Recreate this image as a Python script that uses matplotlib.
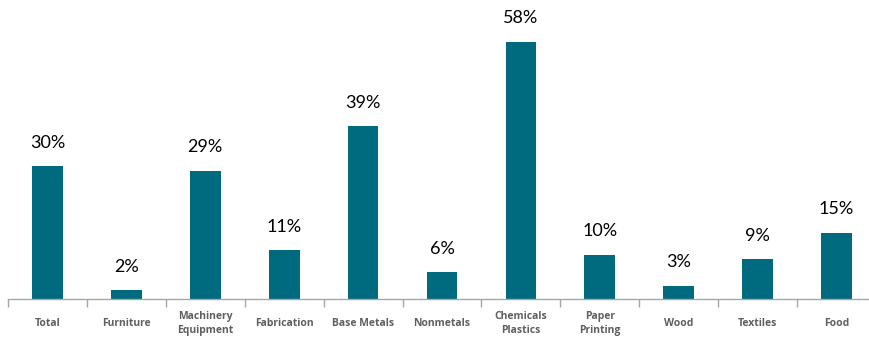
import numpy as np
import matplotlib.pyplot as plt

# Share of firms by sector
sectors = ["Total", "Furniture", "Machinery\nEquipment", "Fabrication", "Base Metals",
           "Nonmetals", "Chemicals\nPlastics", "Paper\nPrinting", "Wood", "Textiles", "Food"]
shares = [30, 2, 29, 11, 39, 6, 58, 10, 3, 9, 15]

bar_color = "#006A7E"
axis_color = "#A6A6A6"

fig = plt.figure(figsize=(8.7, 3.43), dpi=100)
ax = fig.add_axes([8 / 870, 44 / 343, 868 / 870, 299 / 343])

x = np.arange(len(sectors))
ax.bar(x, shares, width=0.39, color=bar_color)

for xi, v in zip(x, shares):
    ax.annotate(f"{v}%", (xi, v), xytext=(0, 17), textcoords="offset points",
                ha="center", va="center", fontsize=13, family="Lato", color="#000000")

ax.set_xlim(-0.5, len(sectors) - 0.5)
ax.set_ylim(0, 67.5)

for s in ["top", "right", "left"]:
    ax.spines[s].set_visible(False)
ax.spines["bottom"].set_color(axis_color)
ax.spines["bottom"].set_linewidth(1.0)
ax.set_yticks([])

# category boundaries as ticks, names as minor labels
ax.set_xticks(np.arange(len(sectors) + 1) - 0.5)
ax.set_xticklabels([])
ax.tick_params(axis="x", which="major", length=6, width=1, color=axis_color, direction="out")
ax.set_xticks(x, minor=True)
ax.set_xticklabels(sectors, minor=True, fontsize=7.5, family="Open Sans",
                   fontweight="bold", color="#5F5F5F", linespacing=1.4)
ax.tick_params(axis="x", which="minor", length=0, pad=17.5)
for lbl in ax.get_xticklabels(minor=True):
    lbl.set_verticalalignment("center")

fig.patch.set_facecolor("white")
fig.savefig("out.png", dpi=100)
